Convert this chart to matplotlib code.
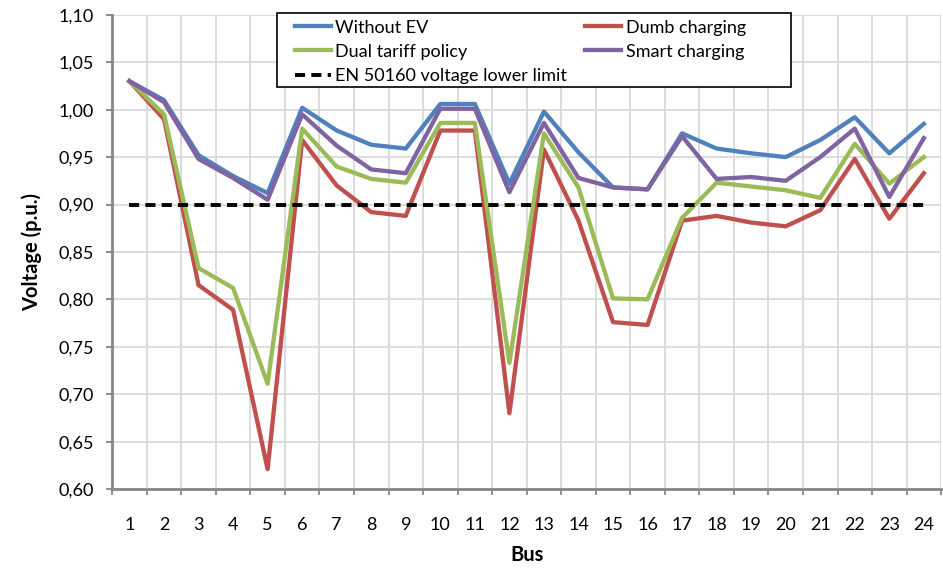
"""
Bus voltage profile for different EV charging strategies.
"""
import matplotlib
matplotlib.use('Agg')
import matplotlib.pyplot as plt
from matplotlib.patches import Rectangle
from matplotlib.ticker import FuncFormatter, MultipleLocator

buses = list(range(1, 25))

without_ev = [1.030, 1.010, 0.952, 0.930, 0.912, 1.002, 0.978, 0.963, 0.959, 1.006, 1.006, 0.922,
              0.998, 0.955, 0.918, 0.916, 0.975, 0.959, 0.954, 0.950, 0.968, 0.992, 0.954, 0.985]
dumb_charging = [1.030, 0.990, 0.815, 0.789, 0.621, 0.968, 0.920, 0.892, 0.888, 0.978, 0.978, 0.680,
                 0.958, 0.883, 0.776, 0.773, 0.883, 0.888, 0.881, 0.877, 0.894, 0.948, 0.885, 0.933]
dual_tariff = [1.030, 0.995, 0.833, 0.812, 0.711, 0.980, 0.940, 0.927, 0.923, 0.986, 0.986, 0.733,
               0.975, 0.918, 0.801, 0.800, 0.886, 0.923, 0.919, 0.915, 0.907, 0.964, 0.922, 0.950]
smart_charging = [1.030, 1.008, 0.948, 0.928, 0.905, 0.995, 0.962, 0.937, 0.933, 1.001, 1.001, 0.913,
                  0.986, 0.928, 0.918, 0.916, 0.972, 0.927, 0.929, 0.925, 0.950, 0.980, 0.908, 0.970]
lower_limit = [0.90] * 24

plt.rcParams['font.family'] = ['Lato', 'DejaVu Sans']

W, H = 943, 570
fig = plt.figure(figsize=(W / 100, H / 100), dpi=100)
ax = fig.add_axes([0.119, 0.142, 0.879, 0.832])

lw = 3.1
h_blue, = ax.plot(buses, without_ev, color='#4F81BD', lw=lw, label='Without EV')
h_red, = ax.plot(buses, dumb_charging, color='#C0504D', lw=lw, label='Dumb charging')
h_green, = ax.plot(buses, dual_tariff, color='#9BBB59', lw=lw, label='Dual tariff policy')
h_purple, = ax.plot(buses, smart_charging, color='#8064A2', lw=lw, label='Smart charging')
h_dash, = ax.plot(buses, lower_limit, color='black', lw=2.8, dashes=(2.6, 1.6),
                  label='EN 50160 voltage lower limit')

ax.set_xlim(0.5, 24.5)
ax.set_ylim(0.60, 1.10)
ax.set_xticks(buses)
ax.xaxis.set_minor_locator(MultipleLocator(1, offset=0.5))
ax.yaxis.set_major_locator(MultipleLocator(0.05))
ax.yaxis.set_major_formatter(FuncFormatter(lambda v, p: f'{v:.2f}'.replace('.', ',')))

ax.grid(True, which='minor', axis='x', color='#D9D9D9', lw=1.3)
ax.grid(True, which='major', axis='y', color='#D9D9D9', lw=1.3)
ax.set_axisbelow(True)

ax.tick_params(axis='x', which='major', length=0, pad=20, labelsize=13)
ax.tick_params(axis='x', which='minor', length=4, width=1.3, color='#868686', direction='out')
ax.tick_params(axis='y', length=4, width=1.3, color='#868686', labelsize=13, pad=9)

for side in ['top', 'right']:
    ax.spines[side].set_visible(False)
for side in ['left', 'bottom']:
    ax.spines[side].set_color('#868686')
    ax.spines[side].set_linewidth(2)

ax.set_ylabel('Voltage (p.u.)', fontsize=14.5, fontweight='bold', labelpad=12)
ax.set_xlabel('Bus', fontsize=14.5, fontweight='bold', labelpad=9)

# legend box drawn separately so it can be wider than its content, like Excel
fig.patches.append(Rectangle((277 / W, 1 - 87 / H), (791 - 277) / W, (87 - 13) / H,
                             transform=fig.transFigure, facecolor='white',
                             edgecolor='black', lw=1.2, zorder=5))
order = [h_blue, h_green, h_dash, h_red, h_purple]
leg = fig.legend(order, [h.get_label() for h in order],
                 ncol=2, loc='upper left', bbox_to_anchor=(291 / W, 1 - 16 / H), fontsize=13,
                 frameon=False, handlelength=2.0, handletextpad=0.25, columnspacing=1.0,
                 labelspacing=0.45, borderpad=0.2, borderaxespad=0)
leg.set_zorder(6)

fig.savefig('out.png', dpi=100)
